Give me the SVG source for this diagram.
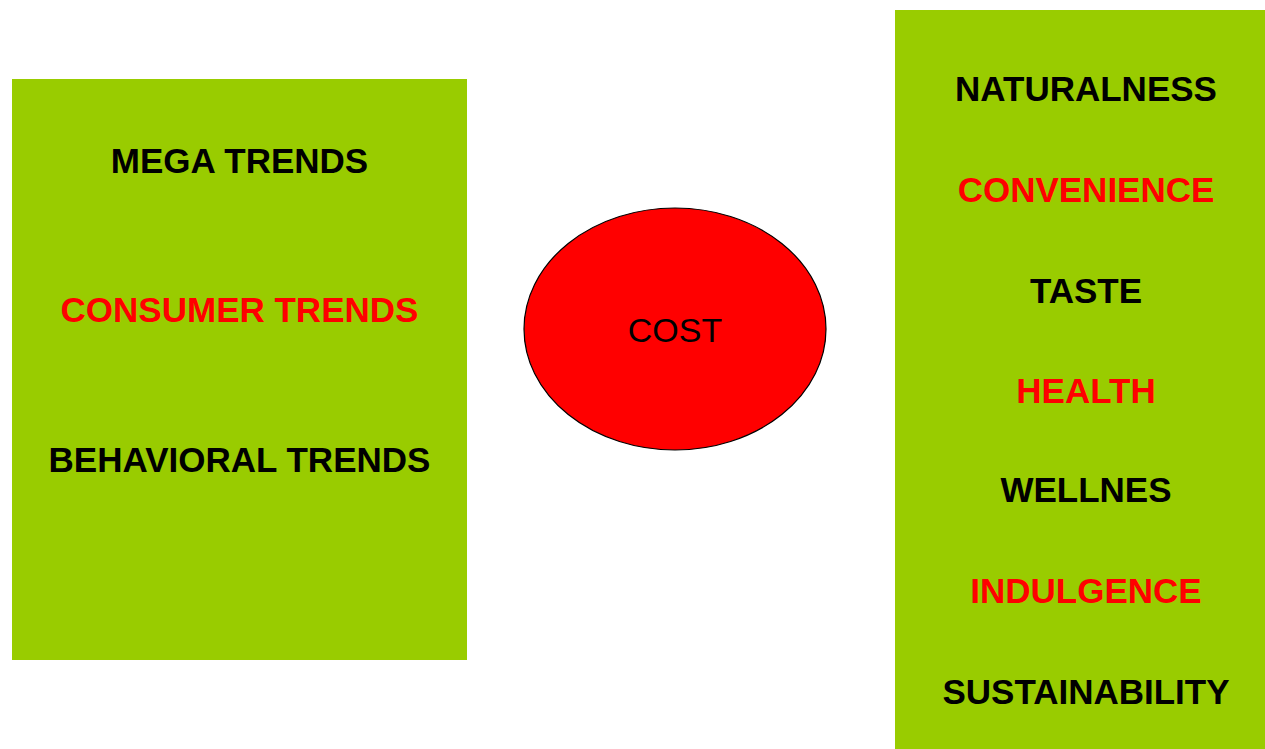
<svg xmlns="http://www.w3.org/2000/svg" width="1265" height="749" viewBox="0 0 1265 749">
  <style>
    .panel { fill: #99cc00; }
    .label { font-family: "Liberation Sans", Arial, sans-serif; font-size: 35px; font-weight: bold; text-anchor: middle; }
    .dark { fill: #000000; }
    .hot { fill: #ff0000; }
    .center-label { font-family: "Liberation Sans", Arial, sans-serif; font-size: 34px; text-anchor: middle; fill: #000000; }
  </style>
  <rect width="1265" height="749" fill="#ffffff"/>

  <g id="trends">
    <rect class="panel" x="12" y="79" width="455" height="581"/>
    <text class="label dark" x="239.5" y="173">MEGA TRENDS</text>
    <text class="label hot" x="239.5" y="322">CONSUMER TRENDS</text>
    <text class="label dark" x="239.5" y="472">BEHAVIORAL TRENDS</text>
  </g>

  <g id="cost">
    <ellipse cx="675" cy="329" rx="151" ry="121" fill="#ff0000" stroke="#000000" stroke-width="1.2"/>
    <text class="center-label" x="675" y="342">COST</text>
  </g>

  <g id="drivers">
    <rect class="panel" x="895" y="10" width="370" height="739"/>
    <text class="label dark" x="1086" y="101">NATURALNESS</text>
    <text class="label hot" x="1086" y="202">CONVENIENCE</text>
    <text class="label dark" x="1086" y="303">TASTE</text>
    <text class="label hot" x="1086" y="403">HEALTH</text>
    <text class="label dark" x="1086" y="502">WELLNES</text>
    <text class="label hot" x="1086" y="603">INDULGENCE</text>
    <text class="label dark" x="1086" y="704">SUSTAINABILITY</text>
  </g>

  <g id="connectors"/>
</svg>
